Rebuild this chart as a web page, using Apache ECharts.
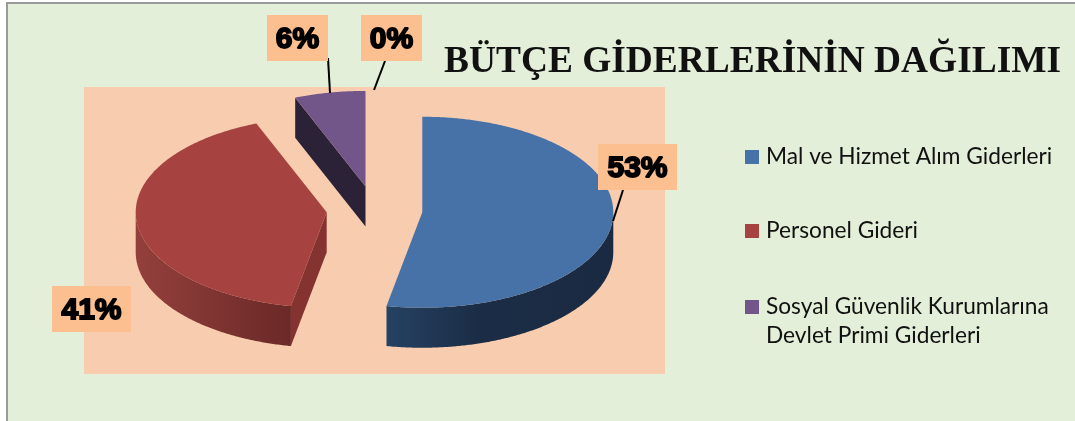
<!DOCTYPE html>
<html lang="tr">

<head>
    <meta charset="utf-8">
    <title>Bütçe Giderlerinin Dağılımı</title>
    <style>
        html,body{
            height: 100%;
            width: 100%;
            padding: 0;
            margin: 0;
            background: #fff;
            overflow: hidden;
        }
        #frame{
            position: absolute;
            left: 6px;
            top: 2px;
            width: 1200px;
            height: 600px;
            border: 2px solid #9a9a9a;
            background: #e3efd9;
        }
        #myChart{
            position: absolute;
            left: 0;
            top: 0;
            width: 1075px;
            height: 421px;
        }
    </style>
</head>

<body>
    <div id="frame"></div>
    <div id="myChart"></div>
    <script type="text/javascript" src="https://cdn.jsdelivr.net/npm/echarts@6/dist/echarts.min.js"></script>
    <script>
        const titleText = 'BÜTÇE GİDERLERİNİN DAĞILIMI'
        const categories = ['Mal ve Hizmet Alım Giderleri', 'Personel Gideri', 'Sosyal Güvenlik Kurumlarına Devlet Primi Giderleri', '']
        const values = [53, 41, 6, 0]
        const topColors = ['#4672a7', '#a64340', '#735689', '#9bbb59']

        // pie geometry, in pixels (axes below are 1 unit = 1 pixel, origin at plot centre)
        const RX = 191, SQUASH = 0.5, EXPLODE = 48, DEPTH = 40, PIE_UP = 20.5
        const total = values.reduce((a, b) => a + b, 0)

        const sideFills = [
            new echarts.graphic.LinearGradient(0, 0, 1, 0, [
                {offset: 0, color: '#254262'}, {offset: 0.4, color: '#1b2d46'}, {offset: 1, color: '#1a2a42'}
            ]),
            new echarts.graphic.LinearGradient(0, 0, 1, 0, [
                {offset: 0, color: '#94403c'}, {offset: 1, color: '#6a2927'}
            ]),
            '#2c2238',
            '#2c2238'
        ]
        const cutColors = ['#1b2d46', '#843331', '#2c2238', '#2c2238']

        // percent label boxes [x0, y0, x1, y1] and leader lines, page pixels
        const labelBoxes = [
            {box: [598, 144, 677, 190], line: [623, 190, 613, 221]},
            {box: [52, 286, 131, 332], line: null},
            {box: [267, 15, 328, 61], line: [328, 58, 330, 93]},
            {box: [361, 15, 422, 61], line: [385, 61, 374, 90]}
        ]

        function startAngle(i){
            return values.slice(0, i).reduce((a, b) => a + b, 0) / total * 360
        }

        function makeRender(i){
            return function(params, api){
                const from = startAngle(i)
                const to = from + values[i] / total * 360
                const mid = (from + to) / 2 * Math.PI / 180
                const cx = EXPLODE * Math.sin(mid)
                const cy = -EXPLODE * Math.cos(mid) * SQUASH

                // point on the slice, deg clockwise from 12 o'clock, r 0..1, h 0 top / 1 bottom
                function pt(deg, r, h){
                    const a = deg * Math.PI / 180
                    const x = cx + r * RX * Math.sin(a)
                    const y = cy - r * RX * SQUASH * Math.cos(a) + h * DEPTH
                    return api.coord([x, PIE_UP - y])
                }
                function arc(a0, a1, h){
                    const pts = []
                    const n = Math.max(2, Math.ceil(Math.abs(a1 - a0) * 2))
                    for(let k = 0; k <= n; k++){
                        pts.push(pt(a0 + (a1 - a0) * k / n, 1, h))
                    }
                    return pts
                }

                const children = []
                if(values[i] > 0){
                    // start cut face, only if it looks at the viewer
                    if(Math.cos((from - 90) * Math.PI / 180) < -0.01){
                        children.push({
                            type: 'polygon',
                            shape: {points: [pt(from, 0, 0), pt(from, 1, 0), pt(from, 1, 1), pt(from, 0, 1)]},
                            style: {fill: cutColors[i]}
                        })
                    }
                    // outer wall
                    const s0 = Math.max(from, 90), s1 = Math.min(to, 270)
                    if(s1 > s0){
                        children.push({
                            type: 'polygon',
                            shape: {points: arc(s0, s1, 0).concat(arc(s1, s0, 1))},
                            style: {fill: sideFills[i]}
                        })
                    }
                    // top face
                    children.push({
                        type: 'polygon',
                        shape: {points: [pt(from, 0, 0)].concat(arc(from, to, 0))},
                        style: {fill: topColors[i]}
                    })
                }

                const lab = labelBoxes[i]
                if(lab.line){
                    children.push({
                        type: 'line',
                        shape: {x1: lab.line[0], y1: lab.line[1], x2: lab.line[2], y2: lab.line[3]},
                        style: {stroke: '#000', lineWidth: 2}
                    })
                }
                children.push({
                    type: 'rect',
                    shape: {x: lab.box[0], y: lab.box[1], width: lab.box[2] - lab.box[0], height: lab.box[3] - lab.box[1]},
                    style: {fill: '#fcbf8f'}
                })
                children.push({
                    type: 'text',
                    style: {
                        text: values[i] + '%',
                        x: (lab.box[0] + lab.box[2]) / 2,
                        y: (lab.box[1] + lab.box[3]) / 2 + 2,
                        align: 'center',
                        verticalAlign: 'middle',
                        font: 'bold 30px "Liberation Sans"',
                        fill: '#000',
                        stroke: '#000',
                        lineWidth: 1.8
                    }
                })
                return {type: 'group', children: children}
            }
        }

        const legendText = {
            fontFamily: 'Lato',
            fontSize: 22.7,
            lineHeight: 29,
            color: '#111',
            padding: [0, 0, 0, 2]
        }

        let myChart = echarts.init(document.getElementById('myChart'), null, {renderer: 'canvas'})
        myChart.setOption({
            animation: false,
            backgroundColor: 'transparent',
            title: {
                text: titleText,
                left: 444,
                top: 44,
                padding: 0,
                textStyle: {fontFamily: 'Liberation Serif', fontWeight: 'bold', fontSize: 37.4, color: '#111'}
            },
            grid: {
                show: true, left: 84, top: 87, width: 581, height: 287,
                backgroundColor: '#f8ccae', borderWidth: 0
            },
            xAxis: {type: 'value', min: -290.5, max: 290.5, show: false},
            yAxis: {type: 'value', min: -143.5, max: 143.5, show: false},
            legend: [{
                data: categories.slice(0, 2),
                left: 745, top: 142.5, padding: 0,
                orient: 'vertical', icon: 'rect', itemWidth: 14, itemHeight: 14, itemGap: 45,
                selectedMode: false,
                textStyle: legendText
            }, {
                data: categories.slice(2, 3),
                left: 745, top: 263.5, padding: 0,
                orient: 'vertical', icon: 'rect', itemWidth: 14, itemHeight: 14,
                selectedMode: false,
                // blank first line keeps the swatch level with the first text line
                formatter: function(name){
                    return '\nSosyal Güvenlik Kurumlarına\nDevlet Primi Giderleri'
                },
                textStyle: legendText
            }],
            series: values.map(function(v, i){
                return {
                    type: 'custom',
                    name: categories[i],
                    coordinateSystem: 'cartesian2d',
                    itemStyle: {color: topColors[i]},
                    data: [[0, v]],
                    renderItem: makeRender(i)
                }
            })
        })
    </script>
</body>

</html>
